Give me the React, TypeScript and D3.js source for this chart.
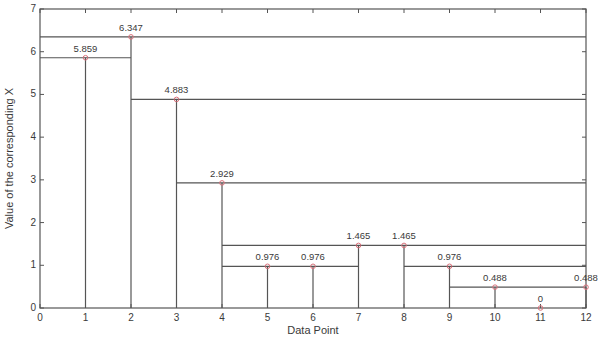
import React from "react";
import * as d3 from "d3";

const dataPoints = [1, 2, 3, 4, 5, 6, 7, 8, 9, 10, 11, 12];
const values = [5.859, 6.347, 4.883, 2.929, 0.976, 0.976, 1.465, 1.465, 0.976, 0.488, 0, 0.488];
const valueLabels = ["5.859", "6.347", "4.883", "2.929", "0.976", "0.976", "1.465", "1.465", "0.976", "0.488", "0", "0.488"];

// horizontal connector segments: level, from x, to x
const hLevels = [5.859, 6.347, 4.883, 2.929, 0.976, 1.465, 0.976, 0.488];
const hFrom = [0, 0, 2, 3, 4, 4, 8, 9];
const hTo = [2, 12, 12, 12, 7, 12, 12, 12];

const xTicks = [0, 1, 2, 3, 4, 5, 6, 7, 8, 9, 10, 11, 12];
const yTicks = [0, 1, 2, 3, 4, 5, 6, 7];

const W = 598;
const H = 339;
const margin = { left: 40, right: 12, top: 9, bottom: 31 };

export default function App() {
  const x = d3.scaleLinear().domain([0, 12]).range([margin.left, W - margin.right]);
  const y = d3.scaleLinear().domain([0, 7]).range([H - margin.bottom, margin.top]);
  const lineColor = "#555";
  const textColor = "#3a3a3a";
  const font = "Arial, 'Liberation Sans', sans-serif";
  const x0 = x(0), x1 = x(12), y0 = y(0), y1 = y(7);
  const tl = 4;

  return (
    <svg
      width={W}
      height={H}
      style={{ position: "absolute", left: 0, top: 0, background: "#fff" }}
      fontFamily={font}
    >
      <rect x={0} y={0} width={W} height={H} fill="#fff" />
      {hLevels.map((lv, i) => (
        <line
          key={"h" + i}
          x1={x(hFrom[i])}
          x2={x(hTo[i])}
          y1={y(lv)}
          y2={y(lv)}
          stroke={lineColor}
          strokeWidth={1.2}
        />
      ))}
      {dataPoints.map((p, i) =>
        values[i] > 0 ? (
          <line
            key={"v" + i}
            x1={x(p)}
            x2={x(p)}
            y1={y(0)}
            y2={y(values[i])}
            stroke={lineColor}
            strokeWidth={1.2}
          />
        ) : null
      )}
      <rect x={x0} y={y1} width={x1 - x0} height={y0 - y1} fill="none" stroke={lineColor} strokeWidth={1.2} />
      {xTicks.map((t) => (
        <g key={"xt" + t}>
          <line x1={x(t)} x2={x(t)} y1={y0} y2={y0 - tl} stroke={lineColor} />
          <line x1={x(t)} x2={x(t)} y1={y1} y2={y1 + tl} stroke={lineColor} />
          <text x={x(t)} y={y0 + 13} fontSize={10} fill={textColor} textAnchor="middle">
            {t}
          </text>
        </g>
      ))}
      {yTicks.map((t) => (
        <g key={"yt" + t}>
          <line x1={x0} x2={x0 + tl} y1={y(t)} y2={y(t)} stroke={lineColor} />
          <line x1={x1} x2={x1 - tl} y1={y(t)} y2={y(t)} stroke={lineColor} />
          <text x={x0 - 4} y={y(t) + 3} fontSize={10} fill={textColor} textAnchor="end">
            {t}
          </text>
        </g>
      ))}
      {dataPoints.map((p, i) => (
        <g key={"m" + i}>
          <circle cx={x(p)} cy={y(values[i])} r={2.3} fill="none" stroke="#d9707a" strokeWidth={1} />
          <text x={x(p)} y={y(values[i]) - 6} fontSize={9.5} fill={textColor} textAnchor="middle">
            {valueLabels[i]}
          </text>
        </g>
      ))}
      <text x={(x0 + x1) / 2} y={H - 5} fontSize={11} fill={textColor} textAnchor="middle">
        Data Point
      </text>
      <text
        transform={`translate(13, ${(y0 + y1) / 2}) rotate(-90)`}
        fontSize={11}
        fill={textColor}
        textAnchor="middle"
      >
        Value of the corresponding X
      </text>
    </svg>
  );
}
